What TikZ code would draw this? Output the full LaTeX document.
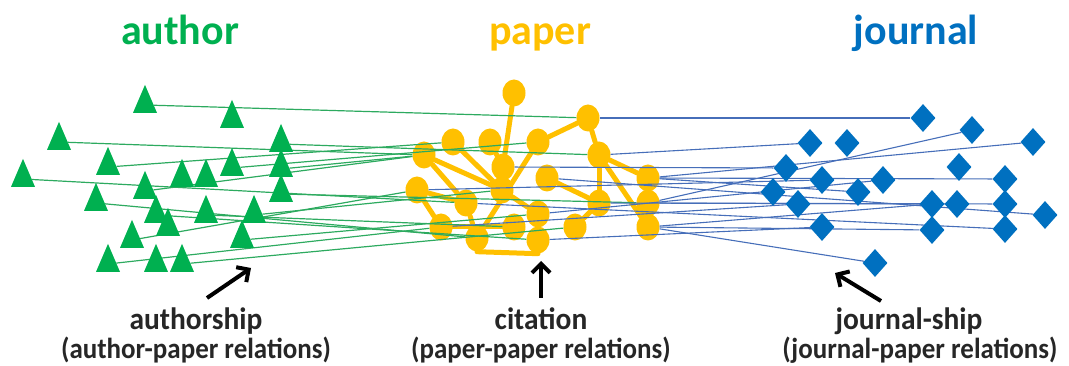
\documentclass[tikz,border=0pt]{standalone}
\usepackage{graphicx}
\usepackage{fontspec}
\setmainfont{Carlito}
\usetikzlibrary{shapes.geometric,arrows.meta}
\pgfdeclarelayer{paperlayer}
\pgfdeclarelayer{linelayer}
\pgfsetlayers{paperlayer,linelayer,main}
\definecolor{agreen}{RGB}{0,176,80}
\definecolor{pgold}{RGB}{255,192,0}
\definecolor{jblue}{RGB}{0,112,192}
\definecolor{glin}{RGB}{45,170,95}
\definecolor{blin}{RGB}{70,110,185}
\newcommand{\narrowtext}[2]{\scalebox{#1}[1]{#2}}
\tikzset{
  auth/.style={isosceles triangle, isosceles triangle stretches, shape border rotate=90,
    minimum width=24pt, minimum height=28pt, inner sep=0pt, fill=agreen},
  pap/.style={ellipse, minimum width=23pt, minimum height=27pt, inner sep=0pt, fill=pgold},
  jour/.style={diamond, minimum width=25pt, minimum height=28pt, inner sep=0pt, fill=jblue},
  cite/.style={pgold, line width=5pt, line cap=round},
  gl/.style={glin, line width=1.2pt},
  bl/.style={blin, line width=1.1pt},
  arr/.style={-{Straight Barb[length=9pt,width=18pt]}, line width=4pt, black},
  ttl/.style={font=\fontsize{42}{48}\selectfont\bfseries, anchor=base},
  lab/.style={font=\fontsize{31}{36}\selectfont\bfseries, text=black!85, anchor=base, inner sep=1pt},
  labs/.style={font=\fontsize{29}{34}\selectfont\bfseries, text=black!85, anchor=base, inner sep=1pt},
}
\begin{document}
\begin{tikzpicture}[x=1pt,y=-1pt]
\useasboundingbox (0,0) rectangle (1069,366);
% titles
\node[ttl, text=agreen] (tA) at (180,45) {author};
\node[ttl, text=pgold] (tP) at (540,45) {paper};
\node[ttl, text=jblue] (tJ) at (916,45) {journal};
% paper nodes and citation edges
\begin{pgfonlayer}{paperlayer}
\foreach \n/\x/\y in {p1/514/93, p2/588/118, p3/453/142, p4/490/142, p5/538/142,
  p6/424/155, p7/599/155, p8/503/167, p9/547/178, p10/648/178, p11/417/190,
  p12/502/190, p13/466/203, p14/599/203, p15/648/203, p16/538/214, p17/441/227,
  p18/514/227, p19/575/227, p20/648/227, p21/477/238, p22/538/240}
  \node[pap] (\n) at (\x,\y) {};
\foreach \a/\b in {p1/p8, p2/p5, p2/p7, p5/p21, p7/p10, p7/p14, p7/p20, p9/p14,
  p14/p19, p10/p15, p15/p20, p6/p12, p6/p13, p3/p12, p8/p12, p12/p16, p16/p22,
  p11/p17, p11/p13, p13/p21, p17/p18, p4/p8}
  \draw[cite] (\a) -- (\b);
\draw[cite] (p21.south) -- (p22.south);
\end{pgfonlayer}
% author nodes
\foreach \n/\x/\y in {a1/145/105, a2/232/120, a3/59/142, a4/281/144, a5/108/167,
  a6/232/168, a7/281/169, a8/23/179, a9/182/179, a10/206/179, a11/145/191,
  a12/281/194, a13/96/203, a14/156/215, a15/206/215, a16/254/215, a17/168/228,
  a18/132/240, a19/242/240, a20/108/264, a21/156/264, a22/182/264}
  \node[auth] (\n) at (\x,\y) {};
% journal nodes
\foreach \n/\x/\y in {j1/923/118, j2/972/130, j3/1033/142, j4/810/143, j5/847/143,
  j6/786/168, j7/959/167, j8/822/180, j9/883/180, j10/1005/179, j11/773/192,
  j12/858/192, j13/798/204, j14/932/204, j15/957/204, j16/1005/204, j17/1045/215,
  j18/822/227, j19/932/230, j20/1005/229, j21/875/263}
  \node[jour] (\n) at (\x,\y) {};
% relation lines
\begin{pgfonlayer}{linelayer}
\foreach \a/\b in {a1/p2, a3/p6, a5/p3, a4/p7, a7/p6, a11/p6, a8/p13, a13/p21,
  a18/p11, a16/p12, a20/p17, a22/p19, a19/p16, a12/p15, a15/p18, a6/p5, a14/p22}
  \draw[gl] (\a) -- (\b);
\foreach \a/\b in {j1/p2, j4/p7, j2/p15, j3/p10, j10/p10, j16/p15, j17/p9, j15/p14,
  j19/p20, j18/p22, j21/p20, j20/p13, j13/p17, j8/p11, j9/p16, j12/p10, j14/p20, j6/p8}
  \draw[bl] (\a) -- (\b);
\end{pgfonlayer}
% labels and arrows
\node[lab] (l1) at (196,330) {\narrowtext{0.95}{authorship}};
\node[labs] (l1b) at (196,358) {\narrowtext{0.93}{(author-paper relations)}};
\node[lab] (l2) at (541,330) {\narrowtext{0.95}{citation}};
\node[labs] (l2b) at (541,358) {\narrowtext{0.93}{(paper-paper relations)}};
\node[lab] (l3) at (909,330) {\narrowtext{0.95}{journal-ship}};
\node[labs] (l3b) at (920,358) {\narrowtext{0.93}{(journal-paper relations)}};
\coordinate (t1) at (207,298); \coordinate (h1) at (251,268);
\coordinate (t2) at (541,298); \coordinate (h2) at (541,261);
\coordinate (t3) at (881,301); \coordinate (h3) at (835,273);
\draw[arr] (t1) -- (h1);
\draw[arr] (t2) -- (h2);
\draw[arr] (t3) -- (h3);
\end{tikzpicture}
\end{document}
